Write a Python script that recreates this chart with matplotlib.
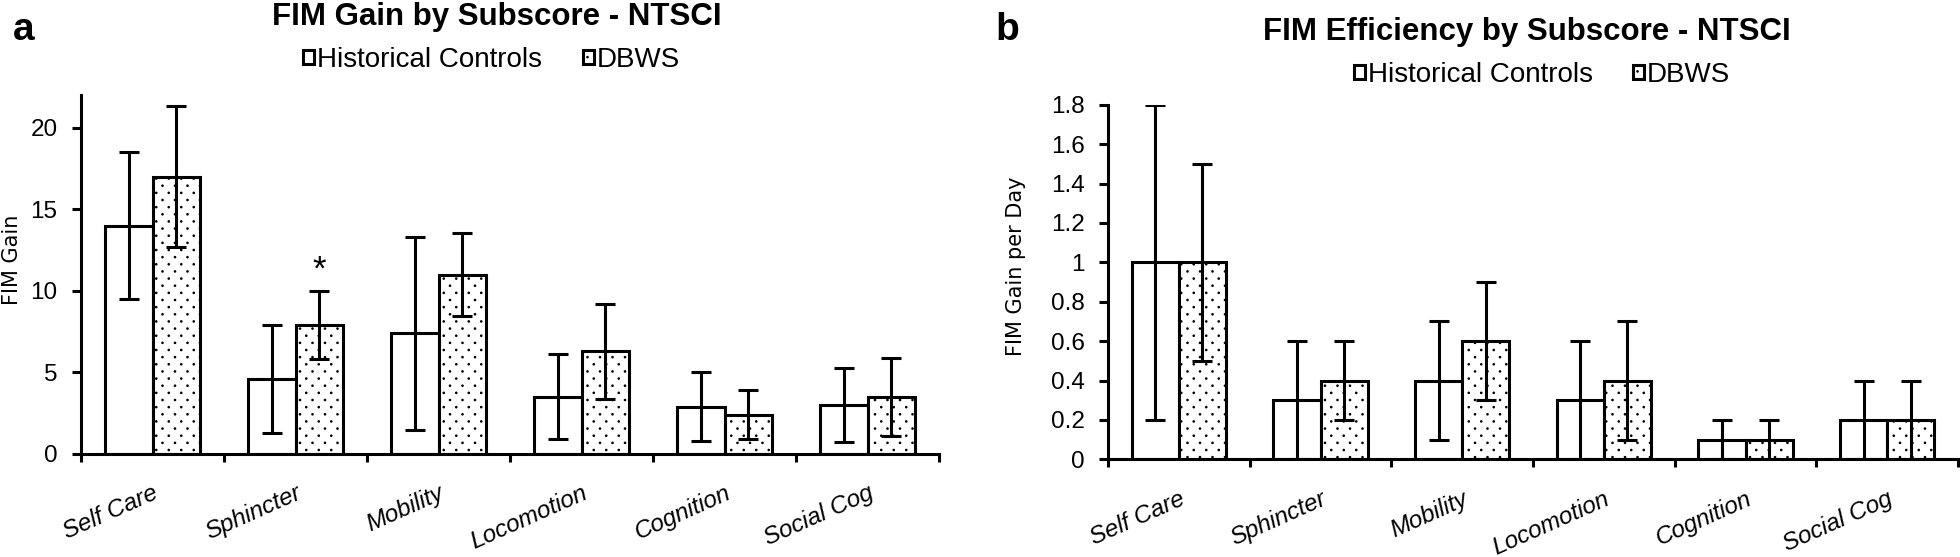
import numpy as np
import matplotlib
matplotlib.use("Agg")
import matplotlib.pyplot as plt
import matplotlib.hatch as mhatch
from matplotlib.path import Path
from matplotlib.patches import Patch

# ---------------- data ----------------
categories = ["Self Care", "Sphincter", "Mobility", "Locomotion", "Cognition", "Social Cog"]
series_names = ["Historical Controls", "DBWS"]

gain_hc = [14.0, 4.6, 7.4, 3.5, 2.9, 3.0]
gain_hc_err = [4.5, 3.3, 5.9, 2.6, 2.1, 2.25]
gain_dbws = [17.0, 7.9, 11.0, 6.3, 2.4, 3.5]
gain_dbws_err = [4.3, 2.1, 2.55, 2.9, 1.5, 2.4]

eff_hc = [1.0, 0.3, 0.4, 0.3, 0.1, 0.2]
eff_hc_err = [0.8, 0.3, 0.3, 0.3, 0.1, 0.2]
eff_dbws = [1.0, 0.4, 0.6, 0.4, 0.1, 0.2]
eff_dbws_err = [0.5, 0.2, 0.3, 0.3, 0.1, 0.2]

gain_yticks = [0, 5, 10, 15, 20]
gain_yticklabels = ["0", "5", "10", "15", "20"]
eff_yticks = [0, 0.2, 0.4, 0.6, 0.8, 1.0, 1.2, 1.4, 1.6, 1.8]
eff_yticklabels = ["0", "0.2", "0.4", "0.6", "0.8", "1", "1.2", "1.4", "1.6", "1.8"]

significant = [1]  # Sphincter, DBWS (panel a)


# ---------------- custom sparse dot hatch ----------------
class SparseDots(mhatch.HatchPatternBase):
    nx = 8
    ny = 14
    radius = 0.006

    def __init__(self, hatch, density):
        circ = Path.unit_circle()
        self.shape_vertices = circ.vertices
        self.shape_codes = circ.codes
        if hatch.count('.'):
            count = sum(self.nx + 1 if r % 2 == 0 else self.nx for r in range(self.ny + 1))
            self.num_vertices = count * len(circ.vertices)
        else:
            self.num_vertices = 0

    def set_vertices_and_codes(self, vertices, codes):
        verts, cds = [], []
        sv = self.shape_vertices * self.radius
        for r in range(self.ny + 1):
            if r % 2 == 0:
                cols = np.linspace(0, 1, self.nx + 1)
            else:
                cols = np.linspace(0.5 / self.nx, 1 - 0.5 / self.nx, self.nx)
            for c in cols:
                verts.append(sv + [c, r / self.ny])
                cds.append(self.shape_codes)
        np.concatenate(verts, out=vertices)
        np.concatenate(cds, out=codes)


mhatch._hatch_types = [t for t in mhatch._hatch_types
                       if t is not mhatch.SmallFilledCircles] + [SparseDots]

plt.rcParams['font.family'] = ['Liberation Sans', 'DejaVu Sans']
plt.rcParams['hatch.linewidth'] = 1.0
plt.rcParams['hatch.color'] = 'black'

LW = 2.2
W = 0.333

fig = plt.figure(figsize=(19.6, 5.57), dpi=100)
ax1 = fig.add_axes([0.04133, 0.18492, 0.43776, 0.64452])
ax2 = fig.add_axes([0.56531, 0.17540, 0.43367, 0.63662])


def draw_panel(ax, hc, hc_err, db, db_err, ylim, yticks, yticklabels, ylabel):
    x = np.arange(len(categories))
    ax.bar(x - W / 2, hc, W, color='white', edgecolor='black', linewidth=LW, zorder=2)
    ax.bar(x + W / 2, db, W, color='white', edgecolor='black', linewidth=LW,
           hatch='.', zorder=2)
    ax.errorbar(x - W / 2, hc, yerr=hc_err, fmt='none', ecolor='black',
                elinewidth=LW, capsize=7, capthick=LW, zorder=3)
    ax.errorbar(x + W / 2, db, yerr=db_err, fmt='none', ecolor='black',
                elinewidth=LW, capsize=7, capthick=LW, zorder=3)
    ax.set_xlim(-0.5, len(categories) - 0.5)
    ax.set_ylim(*ylim)
    for s in ['top', 'right']:
        ax.spines[s].set_visible(False)
    for s in ['left', 'bottom']:
        ax.spines[s].set_linewidth(LW)
        ax.spines[s].set_zorder(4)
    ax.set_yticks(yticks)
    ax.set_yticklabels(yticklabels, fontsize=17.5)
    ax.tick_params(axis='y', direction='out', length=6.5, width=LW, pad=10.5)
    ax.set_xticks(x)
    ax.set_xticklabels(categories, fontsize=17.5, style='italic', rotation=24,
                       ha='right', rotation_mode='anchor')
    ax.tick_params(axis='x', which='major', length=0, pad=20)
    ax.set_xticks(np.arange(-0.5, len(categories), 1.0), minor=True)
    ax.tick_params(axis='x', which='minor', direction='out', length=6, width=LW)
    ax.set_ylabel(ylabel, fontsize=15, family='DejaVu Sans')
    return x


x1 = draw_panel(ax1, gain_hc, gain_hc_err, gain_dbws, gain_dbws_err,
                (0, 22), gain_yticks, gain_yticklabels, "FIM Gain")
x2 = draw_panel(ax2, eff_hc, eff_hc_err, eff_dbws, eff_dbws_err,
                (0, 1.8), eff_yticks, eff_yticklabels, "FIM Gain per Day")

ax1.yaxis.set_label_coords(-0.069, 0.54)
ax2.yaxis.set_label_coords(-0.096, 0.545)

for i in significant:
    ax1.annotate("*", xy=(x1[i] + W / 2, gain_dbws[i] + gain_dbws_err[i]),
                 xytext=(0, 8), textcoords='offset points', ha='center',
                 va='baseline', fontsize=25)

# titles
H = 557.0
Wd = 1960.0
fig.text(497 / Wd, 1 - 25 / H, "FIM Gain by Subscore - NTSCI", ha='center',
         va='baseline', fontsize=22.5, fontweight='bold')
fig.text(1527 / Wd, 1 - 40 / H, "FIM Efficiency by Subscore - NTSCI", ha='center',
         va='baseline', fontsize=22.5, fontweight='bold')
fig.text(13 / Wd, 1 - 40 / H, "a", ha='left', va='baseline', fontsize=28,
         fontweight='bold')
fig.text(995 / Wd, 1 - 40 / H, "b", ha='left', va='baseline', fontsize=28,
         fontweight='bold')

handles = [Patch(facecolor='white', edgecolor='black', linewidth=2.2, label=series_names[0]),
           Patch(facecolor='white', edgecolor='black', linewidth=2.2, hatch='.',
                 label=series_names[1])]
for cx, cy in [(491.5, 60), (1542, 75)]:
    fig.legend(handles=handles, loc='center', bbox_to_anchor=(cx / Wd, 1 - cy / H),
               ncol=2, frameon=False, fontsize=20, handlelength=0.4,
               handleheight=0.4, handletextpad=0.1, columnspacing=1.45,
               borderpad=0, borderaxespad=0)

fig.savefig("out.png", dpi=100)
